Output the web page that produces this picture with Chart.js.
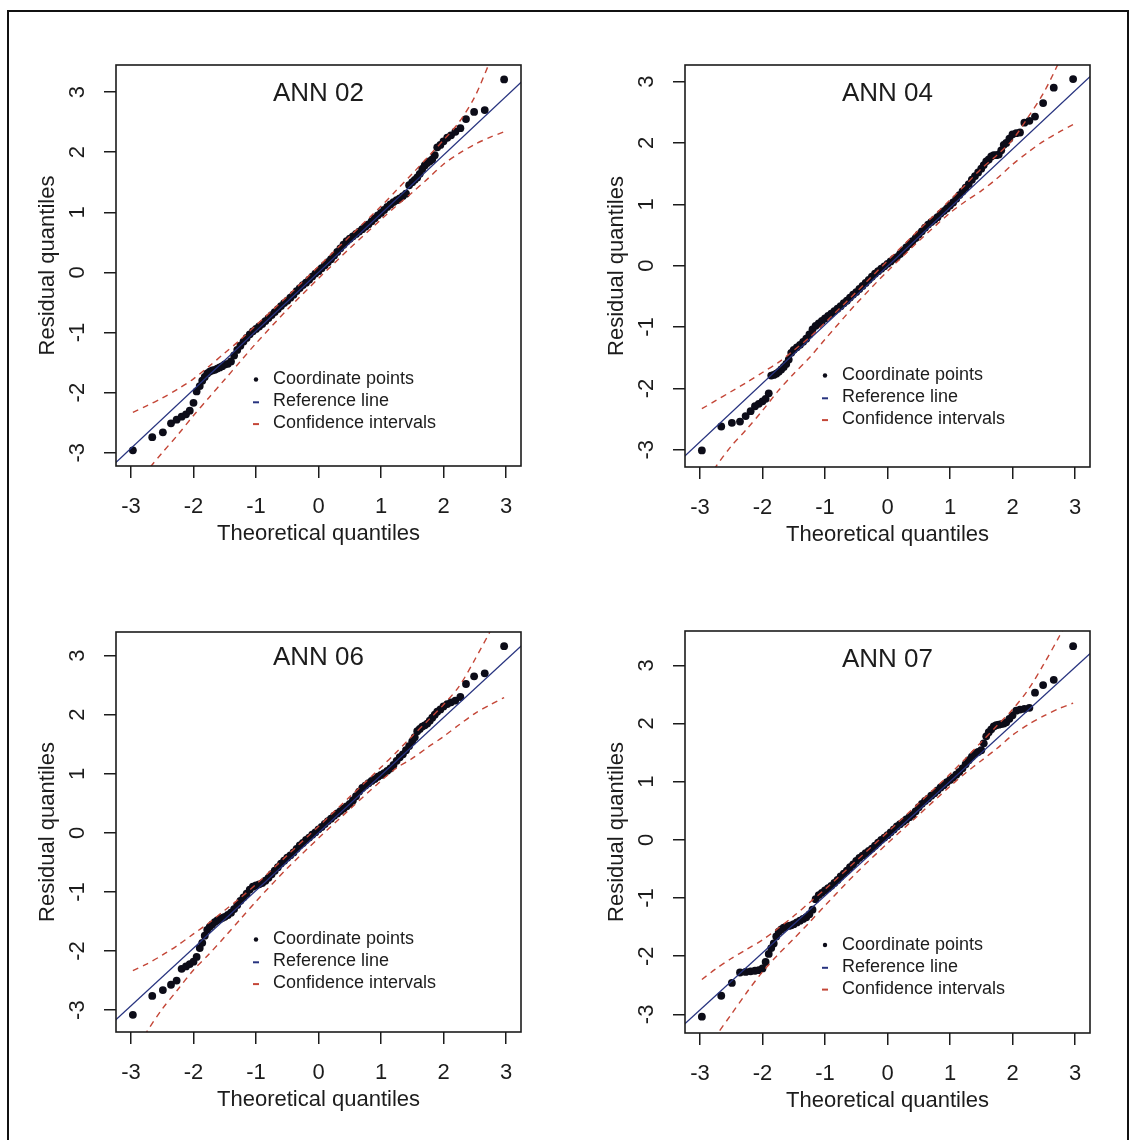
<!DOCTYPE html>
<html>
<head>
<meta charset="utf-8">
<script src="https://cdn.jsdelivr.net/npm/chart.js@4.4.0/dist/chart.umd.min.js"></script>
<style>
  body { margin: 0; background: #fff; width: 1131px; height: 1140px; overflow: hidden; position: relative; }
  #frame { position: absolute; left: 7px; top: 10px; width: 1118px; height: 1200px; border: 2px solid #111; }
  canvas { position: absolute; }
</style>
</head>
<body>
<div id="frame"></div>
<canvas id="c1" width="566" height="570" style="left:0;top:0"></canvas>
<canvas id="c2" width="565" height="570" style="left:566px;top:0"></canvas>
<canvas id="c3" width="566" height="570" style="left:0;top:570px"></canvas>
<canvas id="c4" width="565" height="570" style="left:566px;top:570px"></canvas>
<script>
/********** Datos ***************************************/
const theoQ = [
  -2.97, -2.66, -2.49, -2.36, -2.27, -2.19, -2.12, -2.06, -2.00, -1.95,
  -1.90, -1.86, -1.82, -1.78, -1.74, -1.70, -1.66, -1.62, -1.58, -1.54, -1.50,
  -1.45, -1.40, -1.35, -1.30, -1.25, -1.20, -1.15, -1.10, -1.05, -1.00,
  -0.95, -0.90, -0.85, -0.80, -0.75, -0.70, -0.65, -0.60, -0.55, -0.50,
  -0.45, -0.40, -0.35, -0.30, -0.25, -0.20, -0.15, -0.10, -0.05, 0.00,
  0.05, 0.10, 0.15, 0.20, 0.25, 0.30, 0.35, 0.40, 0.45, 0.50,
  0.55, 0.60, 0.65, 0.70, 0.75, 0.80, 0.85, 0.90, 0.95, 1.00,
  1.05, 1.10, 1.15, 1.20, 1.25, 1.30, 1.35, 1.40, 1.45,
  1.50, 1.54, 1.58, 1.62, 1.66, 1.70, 1.74, 1.78, 1.82, 1.86,
  1.90, 1.95, 2.00, 2.06, 2.12, 2.19, 2.27, 2.36, 2.49, 2.66, 2.97
];

const resid02 = [
  -2.96, -2.74, -2.66, -2.51, -2.45, -2.40, -2.36, -2.30, -2.17, -1.98,
  -1.89, -1.80, -1.74, -1.68, -1.65, -1.63, -1.62, -1.60, -1.58, -1.56, -1.53,
  -1.52, -1.48, -1.38, -1.29, -1.22, -1.15, -1.09, -1.03, -0.98, -0.94,
  -0.90, -0.86, -0.81, -0.76, -0.71, -0.66, -0.61, -0.56, -0.51, -0.47,
  -0.42, -0.37, -0.31, -0.26, -0.21, -0.17, -0.12, -0.07, -0.02, 0.02,
  0.07, 0.12, 0.17, 0.22, 0.28, 0.34, 0.40, 0.46, 0.52, 0.56,
  0.60, 0.64, 0.68, 0.72, 0.76, 0.80, 0.85, 0.90, 0.95, 0.99,
  1.04, 1.09, 1.13, 1.17, 1.20, 1.23, 1.27, 1.31, 1.45,
  1.50, 1.54, 1.58, 1.64, 1.72, 1.78, 1.82, 1.85, 1.88, 1.95,
  2.08, 2.12, 2.18, 2.24, 2.28, 2.34, 2.40, 2.55, 2.67, 2.70, 3.21
];

const resid04 = [
  -3.01, -2.62, -2.56, -2.54, -2.45, -2.37, -2.29, -2.25, -2.21, -2.17,
  -2.08, -1.79, -1.78, -1.76, -1.73, -1.69, -1.65, -1.60, -1.53, -1.42, -1.37,
  -1.33, -1.29, -1.24, -1.19, -1.12, -1.04, -0.98, -0.94, -0.90, -0.86,
  -0.82, -0.78, -0.74, -0.70, -0.66, -0.61, -0.57, -0.52, -0.47, -0.43,
  -0.38, -0.33, -0.28, -0.23, -0.18, -0.13, -0.09, -0.05, -0.01, 0.03,
  0.07, 0.11, 0.14, 0.19, 0.24, 0.30, 0.35, 0.40, 0.45, 0.51,
  0.56, 0.62, 0.67, 0.71, 0.75, 0.79, 0.85, 0.89, 0.93, 0.98,
  1.03, 1.09, 1.15, 1.21, 1.27, 1.33, 1.40, 1.46, 1.52,
  1.58, 1.64, 1.70, 1.73, 1.78, 1.80, 1.80, 1.81, 1.88, 1.97,
  2.00, 2.07, 2.14, 2.16, 2.17, 2.33, 2.36, 2.43, 2.65, 2.90, 3.04
];

const resid06 = [
  -3.08, -2.76, -2.66, -2.57, -2.50, -2.30, -2.26, -2.22, -2.18, -2.10,
  -1.95, -1.86, -1.74, -1.64, -1.59, -1.55, -1.51, -1.48, -1.46, -1.44, -1.42,
  -1.39, -1.35, -1.29, -1.22, -1.15, -1.09, -1.03, -0.96, -0.91, -0.89,
  -0.87, -0.85, -0.81, -0.76, -0.70, -0.64, -0.58, -0.52, -0.47, -0.42,
  -0.38, -0.33, -0.27, -0.21, -0.17, -0.12, -0.08, -0.03, 0.01, 0.06,
  0.10, 0.15, 0.20, 0.24, 0.29, 0.33, 0.37, 0.41, 0.45, 0.49,
  0.55, 0.62, 0.70, 0.76, 0.80, 0.84, 0.88, 0.91, 0.95, 0.98,
  1.01, 1.05, 1.09, 1.15, 1.22, 1.28, 1.33, 1.40, 1.47,
  1.55, 1.62, 1.72, 1.76, 1.80, 1.82, 1.85, 1.90, 1.95, 2.00,
  2.05, 2.09, 2.14, 2.18, 2.21, 2.24, 2.30, 2.52, 2.65, 2.70, 3.16
];

const resid07 = [
  -3.04, -2.68, -2.46, -2.28, -2.27, -2.26, -2.25, -2.24, -2.21, -2.10,
  -1.96, -1.86, -1.78, -1.66, -1.58, -1.54, -1.51, -1.49, -1.48, -1.47, -1.45,
  -1.42, -1.39, -1.36, -1.33, -1.28, -1.20, -1.02, -0.95, -0.91, -0.87,
  -0.83, -0.79, -0.74, -0.69, -0.63, -0.58, -0.53, -0.47, -0.42, -0.36,
  -0.31, -0.27, -0.23, -0.19, -0.15, -0.10, -0.05, 0.00, 0.04, 0.08,
  0.13, 0.18, 0.23, 0.27, 0.31, 0.35, 0.39, 0.43, 0.49, 0.56,
  0.62, 0.67, 0.71, 0.76, 0.80, 0.85, 0.90, 0.94, 0.99, 1.03,
  1.07, 1.12, 1.17, 1.23, 1.30, 1.37, 1.43, 1.48, 1.51,
  1.54, 1.66, 1.78, 1.85, 1.90, 1.95, 1.97, 1.98, 1.99, 2.00,
  2.02, 2.08, 2.14, 2.22, 2.24, 2.25, 2.27, 2.53, 2.66, 2.75, 3.33
];

// linea de referencia (extremos)
const refX = [-3.25, 3.25];
const ref02 = [-3.17, 3.17];
const ref04 = [-3.11, 3.09];
const ref06 = [-3.17, 3.17];
const ref07 = [-3.17, 3.21];

// intervalos de confianza
const ciX = [-2.97, -2.75, -2.5, -2.25, -2, -1.75, -1.5, -1.25, -1, -0.5, 0, 0.5, 1, 1.25, 1.5, 1.75, 2, 2.25, 2.5, 2.75, 2.97];
const upper02 = [-2.33, -2.22, -2.09, -1.94, -1.77, -1.56, -1.34, -1.12, -0.88, -0.40, 0.10, 0.60, 1.10, 1.37, 1.64, 1.92, 2.20, 2.50, 2.92, 3.52, 4.00];
const lower02 = [-3.70, -3.32, -3.00, -2.70, -2.38, -2.08, -1.78, -1.48, -1.18, -0.62, -0.10, 0.40, 0.88, 1.11, 1.33, 1.56, 1.80, 1.98, 2.13, 2.25, 2.34];
const upper04 = [-2.33, -2.20, -2.05, -1.90, -1.74, -1.58, -1.38, -1.17, -0.93, -0.43, 0.08, 0.58, 1.07, 1.32, 1.58, 1.80, 2.05, 2.42, 2.82, 3.33, 3.80];
const lower04 = [-3.62, -3.28, -2.94, -2.66, -2.36, -2.04, -1.76, -1.50, -1.20, -0.62, -0.09, 0.40, 0.86, 1.05, 1.22, 1.42, 1.65, 1.85, 2.03, 2.18, 2.30];
const upper06 = [-2.33, -2.22, -2.07, -1.90, -1.71, -1.52, -1.31, -1.10, -0.87, -0.38, 0.11, 0.61, 1.11, 1.37, 1.64, 1.90, 2.17, 2.48, 2.93, 3.42, 3.90];
const lower06 = [-3.75, -3.37, -2.98, -2.65, -2.32, -2.05, -1.76, -1.46, -1.16, -0.60, -0.09, 0.40, 0.88, 1.10, 1.26, 1.45, 1.63, 1.83, 2.02, 2.17, 2.29];
const upper07 = [-2.40, -2.22, -2.04, -1.88, -1.72, -1.52, -1.31, -1.08, -0.85, -0.36, 0.13, 0.63, 1.13, 1.40, 1.68, 1.96, 2.24, 2.58, 3.02, 3.50, 3.95];
const lower07 = [-3.75, -3.38, -3.00, -2.62, -2.27, -1.97, -1.70, -1.42, -1.13, -0.57, -0.06, 0.43, 0.92, 1.15, 1.36, 1.57, 1.80, 1.98, 2.13, 2.26, 2.35];

const xTicks = [-3, -2, -1, 0, 1, 2, 3];
const yTicks = [-3, -2, -1, 0, 1, 2, 3];
const panelTitles = ['ANN 02', 'ANN 04', 'ANN 06', 'ANN 07'];
const legendLabels = ['Coordinate points', 'Reference line', 'Confidence intervals'];
const xTitle = 'Theoretical quantiles';
const yTitle = 'Residual quantiles';

/********** Estilos *******************/
const FONT = '"Liberation Sans", Arial, sans-serif';
const INK = '#1c1c1c';
const PT = '#0c0c18';
const REF_BLUE = '#27337f';
const CI_RED = 'rgb(196, 70, 55)';

const pts = (xs, ys) => xs.map((x, i) => ({ x: x, y: ys[i] }));

/********** Caja, textos y leyenda estilo R *******************/
const qqDecor = {
  id: 'qqDecor',
  afterDraw(chart, args, o) {
    const ctx = chart.ctx;
    const a = chart.chartArea;
    const sx = chart.scales.x, sy = chart.scales.y;
    const cx = (a.left + a.right) / 2, cy = (a.top + a.bottom) / 2;
    ctx.save();
    ctx.strokeStyle = INK;
    ctx.lineWidth = 1.6;
    ctx.strokeRect(a.left, a.top, a.right - a.left, a.bottom - a.top);

    ctx.fillStyle = INK;
    ctx.textAlign = 'center';
    ctx.textBaseline = 'middle';
    ctx.font = '26px ' + FONT;
    ctx.fillText(o.title, cx, a.top + o.titleDy);

    ctx.font = '22px ' + FONT;
    sx.ticks.forEach(t => ctx.fillText(String(t.value), sx.getPixelForValue(t.value), a.bottom + 41));
    sy.ticks.forEach(t => {
      ctx.save();
      ctx.translate(a.left - 38, sy.getPixelForValue(t.value));
      ctx.rotate(-Math.PI / 2);
      ctx.fillText(String(t.value), 0, 0);
      ctx.restore();
    });
    ctx.fillText(xTitle, cx, a.bottom + 68);
    ctx.save();
    ctx.translate(a.left - 68, cy);
    ctx.rotate(-Math.PI / 2);
    ctx.fillText(yTitle, 0, 0);
    ctx.restore();

    // leyenda
    const symX = a.left + 140, txtX = a.left + 157;
    ctx.font = '18px ' + FONT;
    ctx.textAlign = 'left';
    legendLabels.forEach((lab, i) => {
      const y = a.top + o.legendTop + i * 21.8;
      if (i === 0) {
        ctx.beginPath();
        ctx.arc(symX, y, 2.2, 0, Math.PI * 2);
        ctx.fillStyle = PT;
        ctx.fill();
      } else {
        ctx.beginPath();
        ctx.moveTo(symX - 3, y + 1);
        ctx.lineTo(symX + 3, y + 1);
        ctx.strokeStyle = i === 1 ? REF_BLUE : CI_RED;
        ctx.lineWidth = 2;
        ctx.stroke();
      }
      ctx.fillStyle = INK;
      ctx.fillText(lab, txtX, y);
    });
    ctx.restore();
  }
};

const makeAxis = (min, max, tickVals, fit) => ({
  type: 'linear',
  min: min,
  max: max,
  bounds: 'data',
  ticks: { display: false },
  afterBuildTicks: s => { s.ticks = tickVals.map(v => ({ value: v })); },
  afterFit: fit,
  grid: { drawOnChartArea: false, drawTicks: true, tickLength: 12, color: INK, lineWidth: 1.5 },
  border: { display: false }
});

const crearPanel = (cfg) => {
  new Chart(document.getElementById(cfg.id), {
    type: 'scatter',
    data: {
      datasets: [
        { data: pts(refX, cfg.ref), showLine: true, borderColor: REF_BLUE, borderWidth: 1.3, pointRadius: 0, clip: 0, order: 1 },
        { data: pts(ciX, cfg.upper), showLine: true, borderColor: CI_RED, borderWidth: 1.4, borderDash: [6, 5], pointRadius: 0, tension: 0.3, clip: 0, order: 2 },
        { data: pts(ciX, cfg.lower), showLine: true, borderColor: CI_RED, borderWidth: 1.4, borderDash: [6, 5], pointRadius: 0, tension: 0.3, clip: 0, order: 3 },
        { data: pts(theoQ, cfg.resid), pointRadius: 3.9, pointBackgroundColor: PT, pointBorderWidth: 0, order: 4 }
      ]
    },
    options: {
      responsive: false,
      animation: false,
      devicePixelRatio: 1,
      events: [],
      layout: { padding: { left: 0, top: cfg.top, right: cfg.right, bottom: 0 } },
      scales: {
        x: makeAxis(-3.24, 3.24, xTicks, s => { s.height = cfg.xh; }),
        y: makeAxis(cfg.yMin, cfg.yMax, yTicks, s => { s.width = cfg.left; })
      },
      plugins: {
        legend: { display: false },
        tooltip: { enabled: false },
        qqDecor: { title: cfg.title, titleDy: cfg.titleDy, legendTop: cfg.legendTop }
      }
    },
    plugins: [qqDecor]
  });
};

crearPanel({ id: 'c1', title: panelTitles[0], resid: resid02, ref: ref02, upper: upper02, lower: lower02,
  left: 116, top: 65, right: 45, xh: 104, yMin: -3.22, yMax: 3.45, titleDy: 29, legendTop: 314.5 });
crearPanel({ id: 'c2', title: panelTitles[1], resid: resid04, ref: ref04, upper: upper04, lower: lower04,
  left: 119, top: 65, right: 41, xh: 103, yMin: -3.28, yMax: 3.27, titleDy: 29, legendTop: 310.5 });
crearPanel({ id: 'c3', title: panelTitles[2], resid: resid06, ref: ref06, upper: upper06, lower: lower06,
  left: 116, top: 62, right: 45, xh: 108, yMin: -3.37, yMax: 3.40, titleDy: 26, legendTop: 307.5 });
crearPanel({ id: 'c4', title: panelTitles[3], resid: resid07, ref: ref07, upper: upper07, lower: lower07,
  left: 119, top: 61, right: 41, xh: 107, yMin: -3.32, yMax: 3.59, titleDy: 29, legendTop: 314 });
</script>
</body>
</html>
